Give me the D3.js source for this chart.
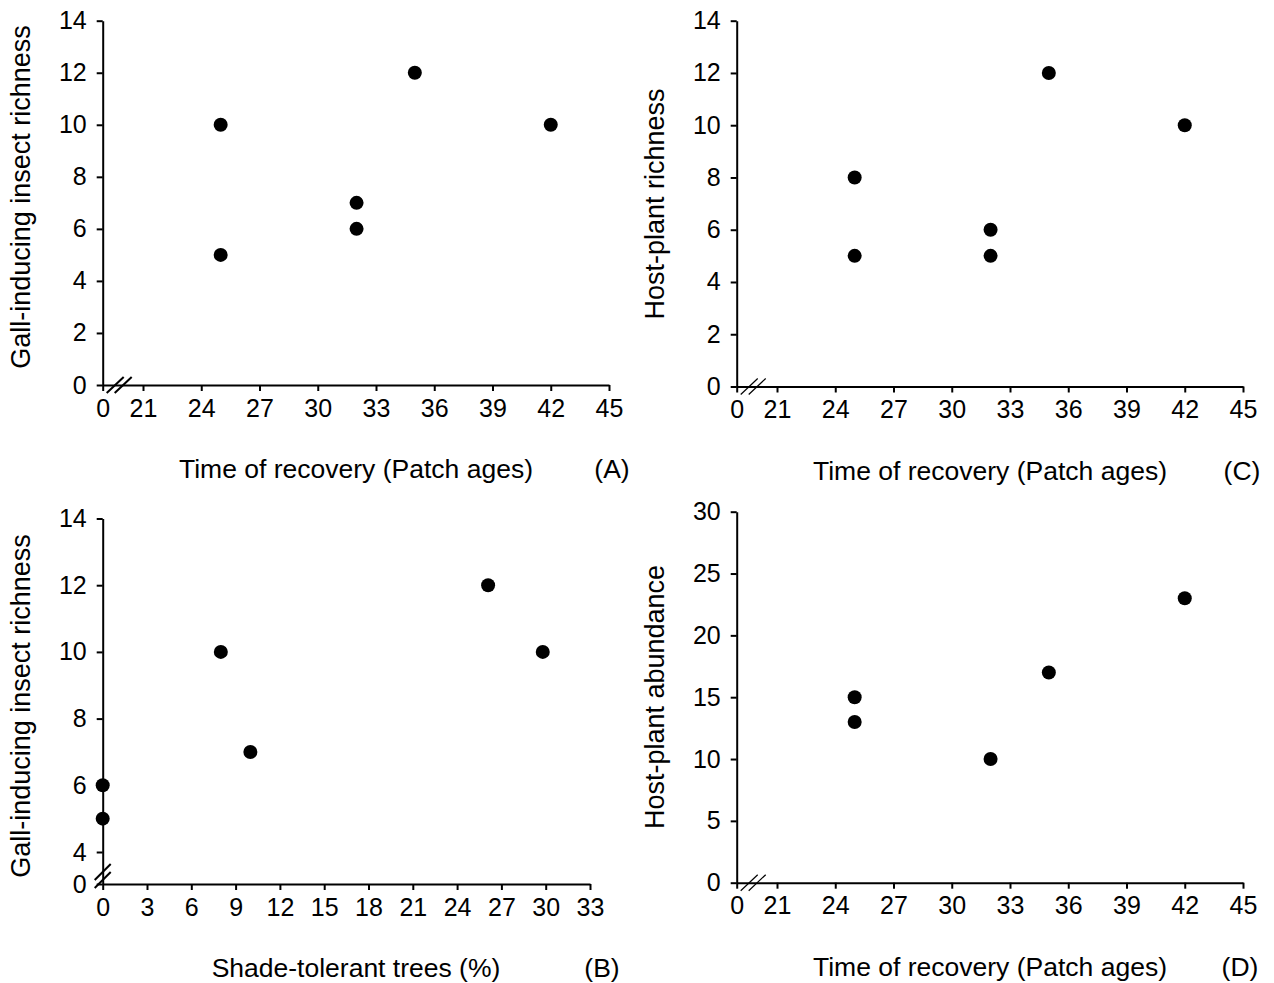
<!DOCTYPE html>
<html>
<head>
<meta charset="utf-8">
<script src="https://cdn.jsdelivr.net/npm/d3@7"></script>
<style>
  body { margin: 0; background: #fff; }
  text { font-family: Arial, "Liberation Sans", sans-serif; fill: #000; }
  .domain, .tick line { stroke: #000; stroke-width: 2; }
</style>
</head>
<body>
<svg id="fig" width="1274" height="983"></svg>
<script>
// tick labels
var ageTicks = [0, 21, 24, 27, 30, 33, 36, 39, 42, 45];
var shadeTicks = [0, 3, 6, 9, 12, 15, 18, 21, 24, 27, 30, 33];
var richTicks = [0, 2, 4, 6, 8, 10, 12, 14];
var gallTicksB = [0, 4, 6, 8, 10, 12, 14];
var abundTicks = [0, 5, 10, 15, 20, 25, 30];

// (A) gall-inducing insect richness vs patch age
var ageA = [25, 25, 32, 32, 35, 42];
var gallA = [10, 5, 7, 6, 12, 10];
// (B) gall-inducing insect richness vs shade-tolerant trees
var shadeB = [0, 0, 8, 10, 26.1, 29.8];
var gallB = [6, 5, 10, 7, 12, 10];
// (C) host-plant richness vs patch age
var ageC = [25, 25, 32, 32, 35, 42];
var hostRichC = [8, 5, 6, 5, 12, 10];
// (D) host-plant abundance vs patch age
var ageD = [25, 25, 32, 35, 42];
var hostAbundD = [15, 13, 10, 17, 23];

var svg = d3.select('#fig');

function drawPanel(o) {
    var g = svg.append('g');

    // polylinear scales give the broken axes
    var x = d3.scaleLinear().domain(o.xDomain).range(o.xRange);
    var y = d3.scaleLinear().domain(o.yDomain).range(o.yRange);

    var xAxis = d3.axisBottom(x)
        .tickValues(o.xTicks)
        .tickSize(6)
        .tickSizeOuter(0)
        .tickPadding(8)
        .tickFormat(d3.format('d'));

    var yAxis = d3.axisLeft(y)
        .tickValues(o.yTicks)
        .tickSize(6)
        .tickSizeOuter(0)
        .tickPadding(10)
        .tickFormat(d3.format('d'));

    var gx = g.append('g')
        .attr('transform', 'translate(0,' + y(0) + ')')
        .call(xAxis);
    gx.selectAll('text').style('font-size', '25px');

    var gy = g.append('g')
        .attr('transform', 'translate(' + x(0) + ',0)')
        .call(yAxis);
    gy.selectAll('text').style('font-size', '25px');

    // axis-break slashes
    var sw = o.thinBreak ? 1.2 : 2;
    if (o.breakX) {
        var bx = x(0) + 4, by = y(0);
        [0, 8].forEach(function(dx) {
            g.append('line')
                .attr('x1', bx + dx).attr('y1', by + 8)
                .attr('x2', bx + dx + 17).attr('y2', by - 8)
                .attr('stroke', '#000').attr('stroke-width', sw);
        });
    }
    if (o.breakY) {
        var yx = x(0), yy = y(0) - 12;
        [0, 8].forEach(function(dy) {
            g.append('line')
                .attr('x1', yx - 8).attr('y1', yy + dy + 8)
                .attr('x2', yx + 8).attr('y2', yy + dy - 8)
                .attr('stroke', '#000').attr('stroke-width', 2);
        });
    }

    // points
    g.selectAll('circle')
        .data(o.xs)
        .enter().append('circle')
        .attr('cx', function(d) { return x(d); })
        .attr('cy', function(d, i) { return y(o.ys[i]); })
        .attr('r', 7)
        .attr('fill', '#000');

    // axis titles
    g.append('text')
        .attr('x', o.xTitleX)
        .attr('y', y(0) + 93)
        .attr('text-anchor', 'middle')
        .style('font-size', '26.5px')
        .text(o.xTitle);

    g.append('text')
        .attr('x', o.tagX)
        .attr('y', y(0) + 93)
        .attr('text-anchor', 'middle')
        .style('font-size', '26.5px')
        .text(o.tag);

    g.append('text')
        .attr('transform', 'translate(' + o.yTitleX + ',' + o.yTitleY + ') rotate(-90)')
        .attr('text-anchor', 'middle')
        .attr('dy', '0.35em')
        .style('font-size', '27px')
        .text(o.yTitle);
}

drawPanel({
    xDomain: [0, 21, 45], xRange: [102.7, 143, 609],
    yDomain: [0, 14], yRange: [385, 20.7],
    xTicks: ageTicks, yTicks: richTicks,
    xs: ageA, ys: gallA,
    breakX: true,
    xTitle: 'Time of recovery (Patch ages)', xTitleX: 356,
    tag: '(A)', tagX: 612,
    yTitle: 'Gall-inducing insect richness', yTitleX: 21, yTitleY: 197
});

drawPanel({
    xDomain: [0, 33], xRange: [102.7, 590],
    yDomain: [0, 4, 14], yRange: [884, 852, 518.5],
    xTicks: shadeTicks, yTicks: gallTicksB,
    xs: shadeB, ys: gallB,
    breakY: true,
    xTitle: 'Shade-tolerant trees (%)', xTitleX: 356,
    tag: '(B)', tagX: 602,
    yTitle: 'Gall-inducing insect richness', yTitleX: 21, yTitleY: 706
});

drawPanel({
    xDomain: [0, 21, 45], xRange: [736.7, 777, 1243],
    yDomain: [0, 14], yRange: [386.5, 20.7],
    xTicks: ageTicks, yTicks: richTicks,
    xs: ageC, ys: hostRichC,
    breakX: true, thinBreak: true,
    xTitle: 'Time of recovery (Patch ages)', xTitleX: 990,
    tag: '(C)', tagX: 1242,
    yTitle: 'Host-plant richness', yTitleX: 655, yTitleY: 204
});

drawPanel({
    xDomain: [0, 21, 45], xRange: [736.7, 777, 1243],
    yDomain: [0, 30], yRange: [882.7, 511.7],
    xTicks: ageTicks, yTicks: abundTicks,
    xs: ageD, ys: hostAbundD,
    breakX: true, thinBreak: true,
    xTitle: 'Time of recovery (Patch ages)', xTitleX: 990,
    tag: '(D)', tagX: 1240,
    yTitle: 'Host-plant abundance', yTitleX: 655, yTitleY: 697
});
</script>
</body>
</html>
